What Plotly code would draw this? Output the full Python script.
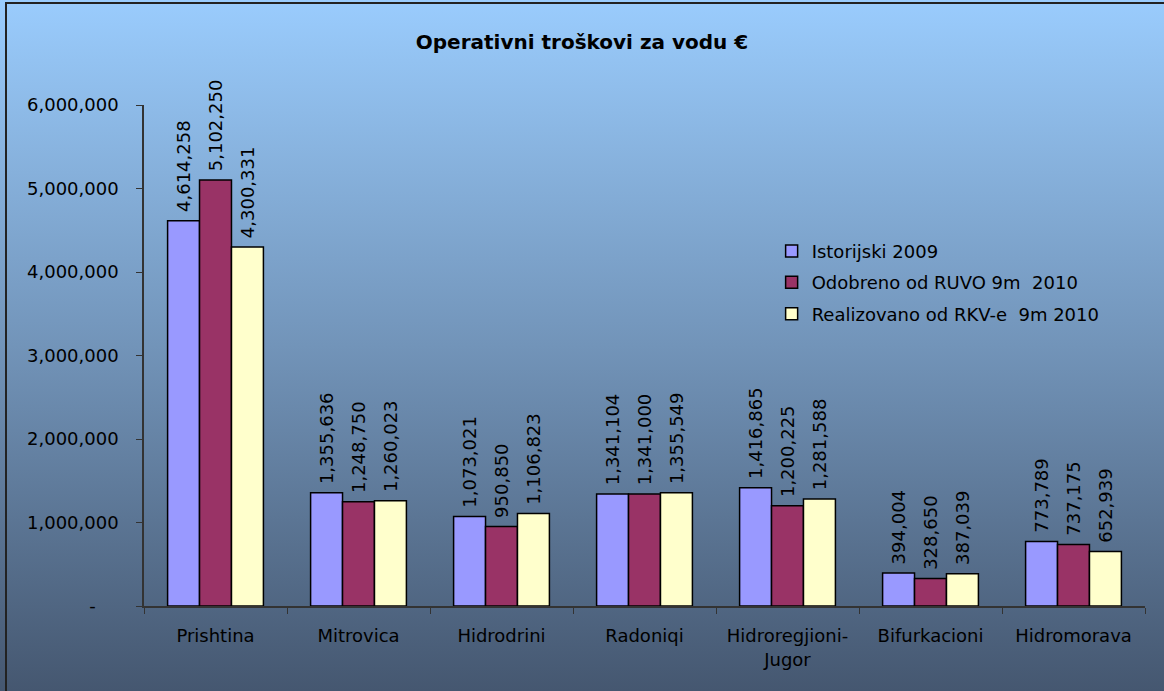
import base64
import plotly.graph_objects as go

# data
regions = ["Prishtina", "Mitrovica", "Hidrodrini", "Radoniqi",
           "Hidroregjioni-<br>Jugor", "Bifurkacioni", "Hidromorava"]
istorijski_2009 = [4614258, 1355636, 1073021, 1341104, 1416865, 394004, 773789]
odobreno_ruvo = [5102250, 1248750, 950850, 1341000, 1200225, 328650, 737175]
realizovano_rkv = [4300331, 1260023, 1106823, 1355549, 1281588, 387039, 652939]

series = [
    ("Istorijski 2009", istorijski_2009, "#9999FF"),
    ("Odobreno od RUVO 9m  2010", odobreno_ruvo, "#993366"),
    ("Realizovano od RKV-e  9m 2010", realizovano_rkv, "#FFFFCC"),
]

y_ticks = [0, 1000000, 2000000, 3000000, 4000000, 5000000, 6000000]
y_ticktext = ["-\u00a0\u00a0\u00a0\u00a0"] + [f"{v:,}" for v in y_ticks[1:]]

FONT = "'DejaVu Sans', sans-serif"

fig = go.Figure()
for i, (name, vals, color) in enumerate(series):
    fig.add_trace(go.Bar(
        x=regions, y=vals, name=name, legendgroup=f"g{i}",
        marker=dict(color=color, line=dict(color="black", width=1.5)),
        # leading nbsp gives a little gap between bar top and rotated label
        text=[f"\u00a0{v:,}" for v in vals],
        textposition="outside", textangle=-90,
        textfont=dict(size=18, color="black", family=FONT),
        constraintext="none", cliponaxis=False,
    ))

# background gradient as svg image
svg = ('<svg xmlns="http://www.w3.org/2000/svg" width="100" height="100" preserveAspectRatio="none">'
       '<defs><linearGradient id="g" x1="0" y1="0" x2="0" y2="1">'
       '<stop offset="0" stop-color="#9ACCFD"/>'
       '<stop offset="0.5" stop-color="#7294B9"/>'
       '<stop offset="1" stop-color="#455770"/>'
       '</linearGradient></defs><rect width="100" height="100" fill="url(#g)"/></svg>')
src = "data:image/svg+xml;base64," + base64.b64encode(svg.encode()).decode()

W, H = 1164, 691
L, R, T, B = 144, 19, 105, 85
pw, ph = W - L - R, H - T - B

fig.add_layout_image(dict(
    source=src, xref="paper", yref="paper",
    x=-L / pw, y=1 + T / ph, sizex=W / pw, sizey=H / ph,
    sizing="stretch", xanchor="left", yanchor="top", layer="below",
))

fig.add_shape(type="rect", xref="paper", yref="paper",
              x0=(6 - L) / pw, x1=(W + 4 - L) / pw,
              y0=-(H + 4 - T - ph) / ph, y1=1 + (T - 3) / ph,
              line=dict(color="#222222", width=2), layer="above")

fig.update_layout(
    width=W, height=H,
    margin=dict(l=L, r=R, t=T, b=B),
    paper_bgcolor="#7294B9", plot_bgcolor="rgba(0,0,0,0)",
    barmode="group", bargap=0.33, bargroupgap=0,
    font=dict(family=FONT, size=18, color="black"),
    title=dict(text="<b>Operativni troškovi za vodu €</b>", x=0.5, xanchor="center",
               y=1 - 42 / H, yanchor="middle", font=dict(size=20, family=FONT)),
    legend=dict(x=0.627, y=0.745, xanchor="left", yanchor="top",
                bgcolor="rgba(0,0,0,0)", font=dict(size=18, family=FONT),
                traceorder="grouped", tracegroupgap=5),
    xaxis=dict(showline=True, linecolor="#333333", linewidth=1.5,
               ticks="outside", tickson="boundaries", ticklen=6, tickcolor="#333333",
               showgrid=False, tickfont=dict(size=18), ticklabelstandoff=13),
    yaxis=dict(range=[0, 6000000], showline=True, linecolor="#333333", linewidth=1.5,
               ticks="outside", ticklen=6, tickcolor="#333333", showgrid=False,
               zeroline=False, tickvals=y_ticks, ticktext=y_ticktext,
               tickfont=dict(size=18), ticklabelstandoff=14),
)

fig.write_html("out.html", config={"displayModeBar": False},
               post_script="document.body.style.margin='0';")
